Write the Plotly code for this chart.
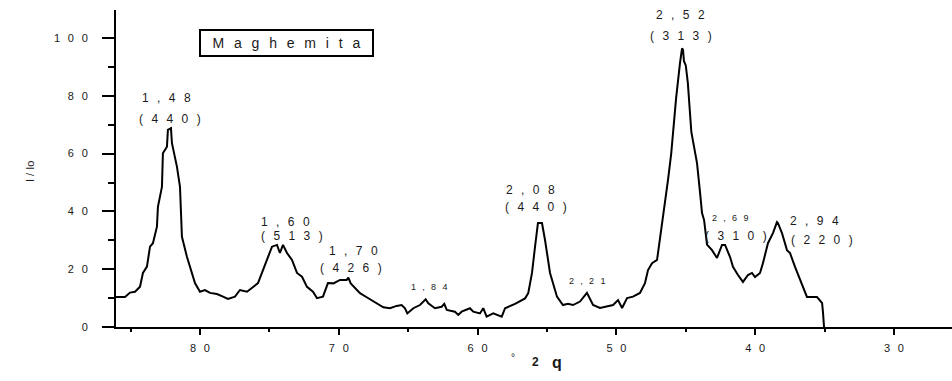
import plotly.graph_objects as go

# ---- data ----
two_theta = [86.05, 85.40, 85.04, 84.68, 84.32, 84.11, 83.82, 83.60, 83.39, 83.10,
             83.03, 82.74, 82.67, 82.38, 82.31, 82.09, 82.02, 81.66, 81.44, 81.30,
             80.94, 80.72, 80.36, 80.00, 79.64, 79.28, 78.78, 78.34, 77.98, 77.48,
             77.12, 76.61, 76.18, 75.82, 75.46, 75.10, 74.81, 74.45, 74.24, 74.02,
             73.73, 73.37, 73.01, 72.65, 72.29, 71.86, 71.57, 71.14, 70.78, 70.39,
             69.91, 69.43, 69.31, 69.14, 68.95, 68.47, 67.99, 67.51, 67.03, 66.79,
             66.31, 65.83, 65.47, 65.23, 65.06, 64.63, 64.15, 63.74, 63.55, 63.07,
             62.59, 62.40, 62.22, 61.63, 61.39, 61.15, 60.55, 60.31, 59.83, 59.59,
             59.35, 58.87, 58.26, 58.02, 57.30, 56.58, 56.35, 56.08, 55.86,
             55.65, 55.36, 55.14, 54.78, 54.28, 53.85, 53.49, 53.13, 52.62, 52.12,
             51.68, 51.18, 50.68, 50.24, 49.88, 49.59, 49.23, 48.80, 48.30, 47.94,
             47.72, 47.43, 47.07, 46.86, 46.64, 46.28, 46.05, 45.92, 45.70, 45.42,
             45.27, 45.20, 45.13, 45.00, 44.85, 44.60, 44.19, 43.97, 43.83, 43.68,
             43.47, 43.11, 42.75, 42.39, 42.17, 41.81, 41.60, 41.24, 40.88, 40.52,
             40.23, 40.01, 39.65, 39.44, 39.08, 38.72, 38.43, 38.36, 38.07, 37.71,
             37.49, 37.13, 36.77, 36.55, 36.27, 35.55, 35.18, 35.11, 35.04]
intensity = [10.4, 10.4, 11.9, 12.2, 13.9, 18.7, 20.9, 27.8, 29.0, 34.7,
             41.6, 48.5, 60.1, 62.4, 68.2, 68.8, 63.6, 55.5, 48.5, 31.2,
             24.3, 20.9, 15.2, 12.2, 12.8, 11.8, 11.4, 10.5, 9.7, 10.5,
             12.8, 12.2, 13.9, 15.2, 19.7, 24.3, 27.8, 28.4, 25.6, 28.4,
             25.6, 23.2, 18.7, 17.4, 13.9, 12.2, 10.0, 10.5, 15.2, 15.1,
             16.3, 16.3, 17.1, 15.1, 14.2, 11.7, 10.3, 8.8, 7.3, 6.8,
             6.5, 7.3, 7.6, 6.5, 4.7, 6.5, 7.6, 9.6, 8.2, 6.5,
             7.0, 8.0, 5.9, 5.3, 4.2, 5.3, 6.5, 5.3, 4.7, 6.5,
             3.6, 4.7, 3.6, 6.5, 8.0, 9.9, 11.7, 18.7, 27.8,
             36.0, 36.0, 30.1, 18.7, 10.5, 7.6, 8.0, 7.6, 8.8, 11.8,
             7.6, 6.6, 7.0, 7.6, 9.3, 6.6, 10.0, 10.5, 11.8, 15.2,
             19.7, 22.1, 23.2, 30.1, 38.2, 50.9, 60.0, 68.2, 79.0, 91.2,
             96.4, 96.0, 92.0, 90.5, 84.4, 67.5, 56.7, 46.4, 39.4, 37.0,
             28.5, 26.6, 23.9, 28.4, 28.4, 24.2, 20.8, 18.0, 15.6, 18.0,
             18.7, 17.3, 18.7, 22.1, 29.0, 32.5, 36.3, 36.0, 32.5, 26.6,
             25.6, 20.8, 16.3, 13.9, 10.4, 10.4, 8.3, 4.8, 0.0]

x_ticks = [80, 70, 60, 50, 40, 30]
y_ticks = [0, 20, 40, 60, 80, 100]

# peak labels: (text, 2theta, I, size)
peak_labels = [
    ("1,48", 82.38, 79.2, 12), ("(440)", 82.15, 72.0, 12),
    ("1,60", 73.83, 36.3, 12), ("(513)", 73.40, 31.5, 12),
    ("1,70", 68.94, 26.3, 12), ("(426)", 69.09, 20.4, 12),
    ("1,84", 63.49, 13.8, 9),
    ("2,08", 56.17, 47.4, 12), ("(440)", 55.81, 41.5, 12),
    ("2,21", 52.15, 15.9, 9),
    ("2,52", 45.40, 108.0, 12), ("(313)", 45.33, 100.7, 12),
    ("2,69", 41.81, 37.7, 9), ("(310)", 41.38, 31.5, 12),
    ("2,94", 35.71, 36.7, 12), ("(220)", 35.20, 30.1, 12),
]
title_box = "Maghemita"

FONT = "Liberation Sans, Arial, sans-serif"
GAP = "\u2002\u2009"
TXT = "#1a1a1a"


def spaced(s, gap=GAP):
    return gap.join(list(s))


fig = go.Figure()
fig.add_trace(go.Scatter(x=two_theta, y=intensity, mode="lines",
                         line=dict(color="black", width=2), showlegend=False))

ann = []
for txt, xx, yy, sz in peak_labels:
    ann.append(dict(x=xx, y=yy, xref="x", yref="y", text=spaced(txt), showarrow=False,
                    font=dict(family=FONT, size=sz, color=TXT)))
ann.append(dict(x=73.77, y=98.3, xref="x", yref="y", text=spaced(title_box),
                showarrow=False, font=dict(family=FONT, size=14, color=TXT),
                bordercolor="black", borderwidth=2, borderpad=0, width=171, height=24,
                bgcolor="white"))
ann.append(dict(x=-0.1124, y=0.489, xref="paper", yref="paper", text="I / Io",
                textangle=-90, showarrow=False, font=dict(family=FONT, size=11, color=TXT)))
ann.append(dict(x=0.4749, y=-0.1199, xref="paper", yref="paper", text="°",
                showarrow=False, font=dict(family=FONT, size=10, color=TXT)))
ann.append(dict(x=0.5012, y=-0.1388, xref="paper", yref="paper", text="<b>2</b>",
                showarrow=False, font=dict(family=FONT, size=12, color=TXT)))
ann.append(dict(x=0.5275, y=-0.1451, xref="paper", yref="paper", text="<b>q</b>",
                showarrow=False, font=dict(family=FONT, size=16, color=TXT)))

fig.update_layout(
    width=952, height=381,
    margin=dict(l=116, r=0, t=10, b=54),
    paper_bgcolor="white", plot_bgcolor="white",
    annotations=ann,
    xaxis=dict(range=[86.05, 25.82], showgrid=False, zeroline=False,
               showline=True, linewidth=2, linecolor="black",
               tickmode="array", tickvals=x_ticks,
               ticktext=[spaced(str(v)) for v in x_ticks],
               ticks="outside", ticklen=6, tickwidth=2, tickcolor="black",
               ticklabelstandoff=4,
               tickfont=dict(family=FONT, size=11, color=TXT),
               minor=dict(ticks="outside", ticklen=3, tickwidth=2, tickcolor="black",
                          dtick=5, tick0=5)),
    yaxis=dict(range=[0, 109.7], showgrid=False, zeroline=False,
               showline=True, linewidth=2, linecolor="black",
               tickmode="array", tickvals=y_ticks,
               ticktext=[spaced(str(v)) for v in y_ticks],
               ticks="outside", ticklen=12, tickwidth=2, tickcolor="black",
               ticklabelstandoff=12,
               tickfont=dict(family=FONT, size=11, color=TXT),
               minor=dict(ticks="outside", ticklen=6, tickwidth=2, tickcolor="black",
                          dtick=10, tick0=0)),
)

fig.write_html("out.html")
